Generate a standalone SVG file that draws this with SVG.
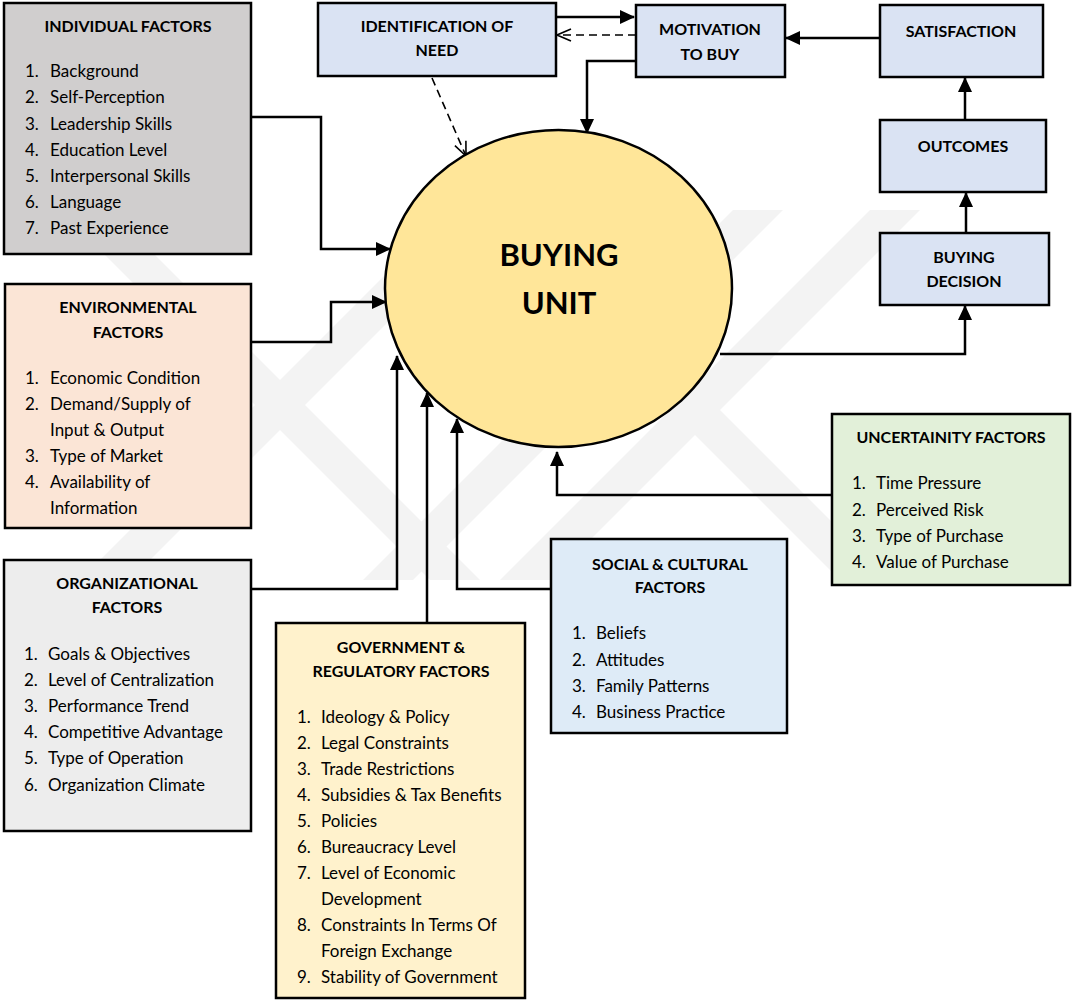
<svg xmlns="http://www.w3.org/2000/svg" width="1072" height="1000" viewBox="0 0 1072 1000">
  <style>
    .box { stroke: #000; stroke-width: 2.5; }
    .ttl { font-family: Lato, "Open Sans", sans-serif; font-weight: bold; font-size: 16px; fill: #000; text-anchor: middle; }
    .big { font-family: Lato, "Open Sans", sans-serif; font-weight: bold; font-size: 31px; fill: #000; text-anchor: middle; }
    .itm { font-family: Lato, "Open Sans", sans-serif; font-size: 17px; fill: #000; }
    .ln { fill: none; stroke: #000; stroke-width: 2.5; }
    .dash { fill: none; stroke: #000; stroke-width: 1.6; stroke-dasharray: 8 5; }
    .wm { fill: #f3f3f3; }
  </style>
  <defs>
    <marker id="head" viewBox="0 0 15 14" refX="14" refY="7" markerWidth="15" markerHeight="14" orient="auto" markerUnits="userSpaceOnUse">
      <path d="M0,0 L15,7 L0,14 z" fill="#000"/>
    </marker>
    <marker id="open" viewBox="0 0 16 14" refX="15" refY="7" markerWidth="16" markerHeight="14" orient="auto" markerUnits="userSpaceOnUse">
      <path d="M1,1 L15,7 L1,13" fill="none" stroke="#000" stroke-width="1.6"/>
    </marker>
    <clipPath id="wmclip"><rect x="0" y="210" width="1072" height="370"/></clipPath>
  </defs>

  <rect width="1072" height="1000" fill="#fff"/>

  <!-- faint background emblem -->
  <g id="watermark" clip-path="url(#wmclip)">
    <polygon class="wm" points="80,580 130,580 500,210 450,210"/>
    <polygon class="wm" points="363,580 413,580 783,210 733,210"/>
    <polygon class="wm" points="500,580 550,580 920,210 870,210"/>
    <polygon class="wm" points="60,210 110,210 480,580 430,580"/>
    <polygon class="wm" points="660,400 710,400 890,580 840,580"/>
  </g>

  <!-- connectors -->
  <g id="connectors">
    <polyline class="ln" points="251,117 321,117 321,249 390,249" marker-end="url(#head)"/>
    <polyline class="ln" points="251,342 331,342 331,302 386,302" marker-end="url(#head)"/>
    <polyline class="ln" points="251,589 397,589 397,356" marker-end="url(#head)"/>
    <polyline class="ln" points="427,623 427,393" marker-end="url(#head)"/>
    <polyline class="ln" points="551,589 457,589 457,419" marker-end="url(#head)"/>
    <polyline class="ln" points="832,495 557,495 557,452" marker-end="url(#head)"/>
    <polyline class="ln" points="720,354 965,354 965,306" marker-end="url(#head)"/>
    <polyline class="ln" points="966,232 966,193" marker-end="url(#head)"/>
    <polyline class="ln" points="965,119 965,78" marker-end="url(#head)"/>
    <polyline class="ln" points="880,38 786,38" marker-end="url(#head)"/>
    <polyline class="ln" points="636,61 587,61 587,133" marker-end="url(#head)"/>
    <polyline class="ln" points="556,17 634,17" marker-end="url(#head)"/>
    <polyline class="dash" points="636,35 557,35" marker-end="url(#open)"/>
    <polyline class="dash" points="432,78 466,156" marker-end="url(#open)"/>
  </g>

  <g id="buying-unit">
    <ellipse cx="558.5" cy="288.5" rx="173.5" ry="158.5" fill="#ffe699" stroke="#000" stroke-width="2.5"/>
    <text class="big" x="559" y="266">BUYING</text>
    <text class="big" x="559" y="314">UNIT</text>
  </g>

  <g id="individual-factors">
    <rect class="box" x="4" y="3" width="247" height="251" fill="#d0cece"/>
    <text class="ttl" x="128" y="32">INDIVIDUAL FACTORS</text>
    <g class="itm">
      <text x="25" y="77">1.</text><text x="50" y="77">Background</text>
      <text x="25" y="103">2.</text><text x="50" y="103">Self-Perception</text>
      <text x="25" y="130">3.</text><text x="50" y="130">Leadership Skills</text>
      <text x="25" y="156">4.</text><text x="50" y="156">Education Level</text>
      <text x="25" y="182">5.</text><text x="50" y="182">Interpersonal Skills</text>
      <text x="25" y="208">6.</text><text x="50" y="208">Language</text>
      <text x="25" y="234">7.</text><text x="50" y="234">Past Experience</text>
    </g>
  </g>

  <g id="environmental-factors">
    <rect class="box" x="5" y="284" width="246" height="244" fill="#fbe5d6"/>
    <text class="ttl" x="128" y="313">ENVIRONMENTAL</text>
    <text class="ttl" x="128" y="338">FACTORS</text>
    <g class="itm">
      <text x="25" y="384">1.</text><text x="50" y="384">Economic Condition</text>
      <text x="25" y="410">2.</text><text x="50" y="410">Demand/Supply of</text>
      <text x="50" y="436">Input &amp; Output</text>
      <text x="25" y="462">3.</text><text x="50" y="462">Type of Market</text>
      <text x="25" y="488">4.</text><text x="50" y="488">Availability of</text>
      <text x="50" y="514">Information</text>
    </g>
  </g>

  <g id="organizational-factors">
    <rect class="box" x="4" y="560" width="247" height="271" fill="#ededed"/>
    <text class="ttl" x="127" y="589">ORGANIZATIONAL</text>
    <text class="ttl" x="127" y="613">FACTORS</text>
    <g class="itm">
      <text x="24" y="660">1.</text><text x="48" y="660">Goals &amp; Objectives</text>
      <text x="24" y="686">2.</text><text x="48" y="686">Level of Centralization</text>
      <text x="24" y="712">3.</text><text x="48" y="712">Performance Trend</text>
      <text x="24" y="738">4.</text><text x="48" y="738">Competitive Advantage</text>
      <text x="24" y="764">5.</text><text x="48" y="764">Type of Operation</text>
      <text x="24" y="791">6.</text><text x="48" y="791">Organization Climate</text>
    </g>
  </g>

  <g id="government-factors">
    <rect class="box" x="276" y="623" width="249" height="375" fill="#fff2cc"/>
    <text class="ttl" x="401" y="653">GOVERNMENT &amp;</text>
    <text class="ttl" x="401" y="677">REGULATORY FACTORS</text>
    <g class="itm">
      <text x="297" y="723">1.</text><text x="321" y="723">Ideology &amp; Policy</text>
      <text x="297" y="749">2.</text><text x="321" y="749">Legal Constraints</text>
      <text x="297" y="775">3.</text><text x="321" y="775">Trade Restrictions</text>
      <text x="297" y="801">4.</text><text x="321" y="801">Subsidies &amp; Tax Benefits</text>
      <text x="297" y="827">5.</text><text x="321" y="827">Policies</text>
      <text x="297" y="853">6.</text><text x="321" y="853">Bureaucracy Level</text>
      <text x="297" y="879">7.</text><text x="321" y="879">Level of Economic</text>
      <text x="321" y="905">Development</text>
      <text x="297" y="931">8.</text><text x="321" y="931">Constraints In Terms Of</text>
      <text x="321" y="957">Foreign Exchange</text>
      <text x="297" y="983">9.</text><text x="321" y="983">Stability of Government</text>
    </g>
  </g>

  <g id="social-cultural-factors">
    <rect class="box" x="551" y="539" width="236" height="194" fill="#deebf7"/>
    <text class="ttl" x="670" y="570">SOCIAL &amp; CULTURAL</text>
    <text class="ttl" x="670" y="593">FACTORS</text>
    <g class="itm">
      <text x="572" y="639">1.</text><text x="596" y="639">Beliefs</text>
      <text x="572" y="666">2.</text><text x="596" y="666">Attitudes</text>
      <text x="572" y="692">3.</text><text x="596" y="692">Family Patterns</text>
      <text x="572" y="718">4.</text><text x="596" y="718">Business Practice</text>
    </g>
  </g>

  <g id="uncertainty-factors">
    <rect class="box" x="832" y="414" width="238" height="171" fill="#e2f0d9"/>
    <text class="ttl" x="951" y="443">UNCERTAINITY FACTORS</text>
    <g class="itm">
      <text x="852" y="489">1.</text><text x="876" y="489">Time Pressure</text>
      <text x="852" y="516">2.</text><text x="876" y="516">Perceived Risk</text>
      <text x="852" y="542">3.</text><text x="876" y="542">Type of Purchase</text>
      <text x="852" y="568">4.</text><text x="876" y="568">Value of Purchase</text>
    </g>
  </g>

  <g id="identification-of-need">
    <rect class="box" x="318" y="3" width="238" height="73" fill="#dae3f3"/>
    <text class="ttl" x="437" y="32">IDENTIFICATION OF</text>
    <text class="ttl" x="437" y="56">NEED</text>
  </g>

  <g id="motivation-to-buy">
    <rect class="box" x="636" y="5" width="149" height="72" fill="#dae3f3"/>
    <text class="ttl" x="710" y="35">MOTIVATION</text>
    <text class="ttl" x="710" y="60">TO BUY</text>
  </g>

  <g id="satisfaction">
    <rect class="box" x="880" y="5" width="163" height="72" fill="#dae3f3"/>
    <text class="ttl" x="961" y="37">SATISFACTION</text>
  </g>

  <g id="outcomes">
    <rect class="box" x="880" y="120" width="166" height="72" fill="#dae3f3"/>
    <text class="ttl" x="963" y="152">OUTCOMES</text>
  </g>

  <g id="buying-decision">
    <rect class="box" x="880" y="233" width="169" height="72" fill="#dae3f3"/>
    <text class="ttl" x="964" y="263">BUYING</text>
    <text class="ttl" x="964" y="287">DECISION</text>
  </g>
</svg>
